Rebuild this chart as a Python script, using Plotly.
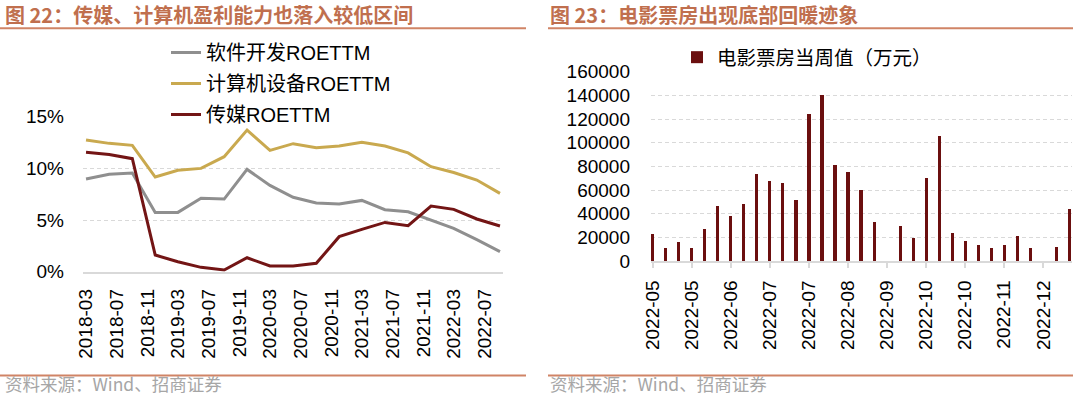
import plotly.graph_objects as go

# ---------------- data ----------------
quarters = ["2018-03-01", "2018-06-01", "2018-09-01", "2018-12-01",
            "2019-03-01", "2019-06-01", "2019-09-01", "2019-12-01",
            "2020-03-01", "2020-06-01", "2020-09-01", "2020-12-01",
            "2021-03-01", "2021-06-01", "2021-09-01", "2021-12-01",
            "2022-03-01", "2022-06-01", "2022-09-01"]
software_roe = [8.97, 9.42, 9.55, 5.74, 5.74, 7.10, 7.03, 9.90, 8.35, 7.20,
                6.65, 6.55, 6.90, 6.00, 5.80, 5.00, 4.20, 3.10, 1.95]
computer_roe = [12.74, 12.42, 12.23, 9.16, 9.81, 10.00, 11.13, 13.71, 11.74, 12.39,
                12.00, 12.16, 12.52, 12.16, 11.50, 10.16, 9.60, 8.87, 7.58]
media_roe = [11.55, 11.35, 10.94, 1.61, 0.97, 0.42, 0.16, 1.35, 0.55, 0.55,
             0.81, 3.39, 4.10, 4.77, 4.45, 6.35, 6.03, 5.10, 4.42]
left_ticks = ["2018-03-01", "2018-07-01", "2018-11-01", "2019-03-01", "2019-07-01",
              "2019-11-01", "2020-03-01", "2020-07-01", "2020-11-01", "2021-03-01",
              "2021-07-01", "2021-11-01", "2022-03-01", "2022-07-01"]

weeks = ["2022-05-08", "2022-05-15", "2022-05-22", "2022-05-29", "2022-06-05",
         "2022-06-12", "2022-06-19", "2022-06-26", "2022-07-03", "2022-07-10",
         "2022-07-17", "2022-07-24", "2022-07-31", "2022-08-07", "2022-08-14",
         "2022-08-21", "2022-08-28", "2022-09-04", "2022-09-11", "2022-09-18",
         "2022-09-25", "2022-10-02", "2022-10-09", "2022-10-16", "2022-10-23",
         "2022-10-30", "2022-11-06", "2022-11-13", "2022-11-20", "2022-11-27",
         "2022-12-04", "2022-12-11", "2022-12-18"]
box_office = [22800, 11500, 16600, 11300, 27600, 47000, 38300, 48700, 74000, 68200,
              66500, 51500, 124800, 140800, 81400, 75800, 60000, 33000, None, 30100,
              20000, 70700, 105900, 23700, 16900, 13500, 11000, 13800, 21100, 11500,
              None, 12100, 44500]
right_tick_idx = [0, 3, 6, 9, 12, 15, 18, 21, 24, 27, 30]

# ---------------- style ----------------
W, H = 1080, 398
FONT = "Arial, Noto Sans CJK SC"
CJK = "Noto Sans CJK SC, Arial"
LEG = "Arial, Noto Sans CJK SC"
TITLE_C = "#C06F4E"
LINE_C = "#D08466"
GRID_C = "#D9D9D9"

def px_x(p):
    return p / W

def px_y(p):
    return 1 - p / H

fig = go.Figure()

fig.add_trace(go.Scatter(x=quarters, y=software_roe, name="软件开发ROETTM", mode="lines",
                         line=dict(color="#8F8F8F", width=3), xaxis="x", yaxis="y",
                         legend="legend", legendgroup="a"))
fig.add_trace(go.Scatter(x=quarters, y=computer_roe, name="计算机设备ROETTM", mode="lines",
                         line=dict(color="#C9A94F", width=3), xaxis="x", yaxis="y",
                         legend="legend", legendgroup="b"))
fig.add_trace(go.Scatter(x=quarters, y=media_roe, name="传媒ROETTM", mode="lines",
                         line=dict(color="#731515", width=3), xaxis="x", yaxis="y",
                         legend="legend", legendgroup="c"))

fig.add_trace(go.Bar(x=weeks, y=box_office, name="电影票房当周值（万元）",
                     marker=dict(color="#6B0F0F", line=dict(width=0)), width=0.24,
                     xaxis="x2", yaxis="y2", legend="legend2"))

fig.update_layout(
    width=W, height=H,
    margin=dict(l=0, r=0, t=0, b=0, autoexpand=False),
    paper_bgcolor="white", plot_bgcolor="white",
    font=dict(family=FONT, size=19, color="#000000"),
    xaxis=dict(domain=[px_x(83), px_x(503)], type="date",
               range=["2018-02-17", "2022-09-13"],
               tickvals=left_ticks, tickformat="%Y-%m", tickangle=-90,
               showgrid=False, showline=True, linecolor=GRID_C, linewidth=1.5,
               ticks="", zeroline=False, anchor="y", automargin=False,
               ticklabelstandoff=8,
               tickfont=dict(family=FONT, size=19)),
    yaxis=dict(domain=[px_y(271.7), px_y(116.7)], range=[0, 15], dtick=5,
               ticksuffix="%", showgrid=True, gridcolor=GRID_C, griddash="4px,3px",
               gridwidth=1, zeroline=False, showline=False, anchor="x",
               ticklabelstandoff=18, automargin=False,
               tickfont=dict(family=FONT, size=19)),
    xaxis2=dict(domain=[px_x(651), px_x(1072)], type="category",
                range=[-0.13, 32.2],
                tickvals=[weeks[i] for i in right_tick_idx],
                ticktext=[weeks[i][:7] for i in right_tick_idx],
                tickangle=-90, showgrid=False, showline=True, linecolor=GRID_C,
                linewidth=1.5, ticks="outside", ticklen=5, tickcolor=GRID_C,
                tickwidth=1.5, anchor="y2", automargin=False,
                ticklabelstandoff=5,
                tickfont=dict(family=FONT, size=19)),
    yaxis2=dict(domain=[px_y(261), px_y(71.7)], range=[0, 160000], dtick=20000,
                tickformat="d",
                showgrid=True, gridcolor=GRID_C, griddash="4px,3px", gridwidth=1,
                zeroline=False, showline=False, anchor="x2",
                ticklabelstandoff=20, automargin=False,
                tickfont=dict(family=FONT, size=19)),
    legend=dict(x=px_x(166), y=px_y(33), xanchor="left", yanchor="top",
                bgcolor="rgba(0,0,0,0)", tracegroupgap=2,
                font=dict(family=LEG, size=20, color="#000000")),
    legend2=dict(x=px_x(677), y=px_y(38), xanchor="left", yanchor="top",
                 bgcolor="rgba(0,0,0,0)",
                 font=dict(family=CJK, size=19.5, color="#000000")),
    bargap=0,
)

# titles
fig.add_annotation(text="<b>图 22：传媒、计算机盈利能力也落入较低区间</b>", x=px_x(3), y=px_y(14.5),
                   xref="paper", yref="paper", xanchor="left", yanchor="middle",
                   showarrow=False, font=dict(family=CJK, size=20, color=TITLE_C))
fig.add_annotation(text="<b>图 23：电影票房出现底部回暖迹象</b>", x=px_x(548), y=px_y(14.5),
                   xref="paper", yref="paper", xanchor="left", yanchor="middle",
                   showarrow=False, font=dict(family=CJK, size=20, color=TITLE_C))
# footers
for x0 in (3, 548):
    fig.add_annotation(text="资料来源：Wind、招商证券", x=px_x(x0), y=px_y(397.5),
                       xref="paper", yref="paper", xanchor="left", yanchor="bottom",
                       showarrow=False, font=dict(family=CJK, size=17.5, color="#A6A6A6"))

# rules
for (a, b) in ((0, 526), (548, 1073)):
    fig.add_shape(type="line", xref="paper", yref="paper", x0=px_x(a), x1=px_x(b),
                  y0=px_y(28.3), y1=px_y(28.3), line=dict(color=LINE_C, width=2))
    fig.add_shape(type="line", xref="paper", yref="paper", x0=px_x(a), x1=px_x(b),
                  y0=px_y(375.5), y1=px_y(375.5), line=dict(color=LINE_C, width=2))

fig.write_html("out.html", config={"displayModeBar": False},
               post_script="document.body.style.margin='0';document.body.style.overflow='hidden';")
